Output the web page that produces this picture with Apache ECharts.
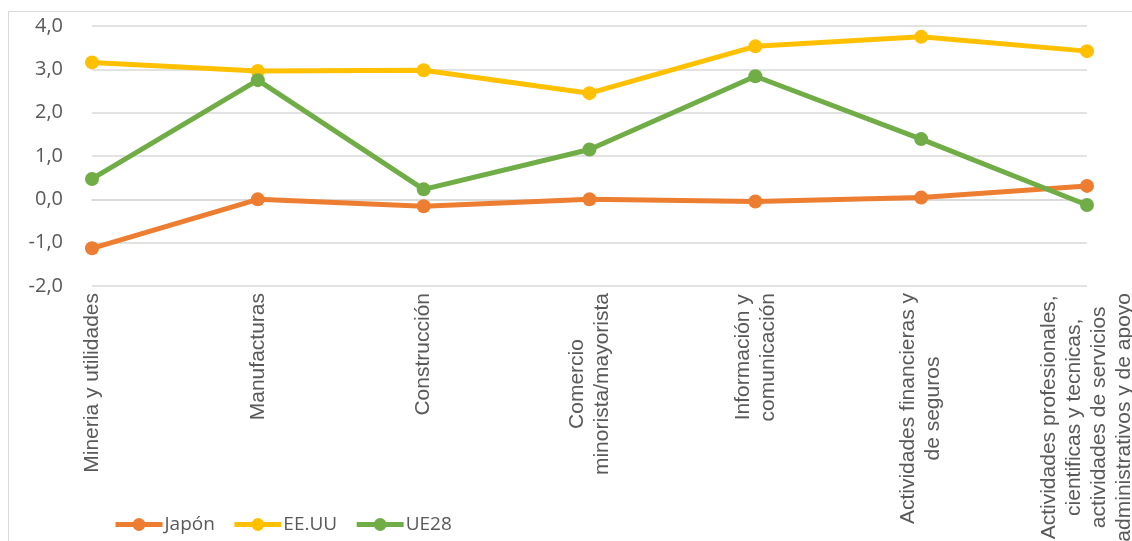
<!DOCTYPE html>
<html>
<head>
<meta charset="utf-8">
<script src="https://cdn.jsdelivr.net/npm/echarts@6/dist/echarts.min.js"></script>
<style>
  html, body { margin: 0; padding: 0; background: #fff; }
  #chart { width: 1132px; height: 541px; }
</style>
</head>
<body>
<div id="chart"></div>
<script>
// Sectores económicos (eje X)
const sectores = [
  'Mineria y utilidades',
  'Manufacturas',
  'Construcción',
  'Comercio\nminorista/mayorista',
  'Información y\ncomunicación',
  'Actividades financieras y\nde seguros',
  'Actividades profesionales,\ncientificas y tecnicas,\nactividades de servicios\nadministrativos y de apoyo'
];

// Variación por región
const japon = [-1.13, 0.0, -0.16, 0.0, -0.05, 0.04, 0.31];
const eeuu  = [3.16, 2.96, 2.98, 2.45, 3.53, 3.75, 3.42];
const ue28  = [0.47, 2.75, 0.23, 1.15, 2.84, 1.39, -0.13];

const nombres = ['Japón', 'EE.UU', 'UE28'];
const colores = ['#ED7D31', '#FFC000', '#70AD47'];

const textoGris = '#595959';
const rejilla = '#d9d9d9';

const chart = echarts.init(document.getElementById('chart'), null, { renderer: 'canvas' });

function serie(nombre, datos, color) {
  return {
    name: nombre,
    type: 'line',
    data: datos,
    symbol: 'circle',
    symbolSize: 14,
    smooth: false,
    lineStyle: { width: 5, color: color },
    itemStyle: { color: color },
    emphasis: { disabled: true }
  };
}

chart.setOption({
  animation: false,
  backgroundColor: '#fff',
  graphic: [{
    type: 'polyline',
    shape: { points: [[8.5, 541], [8.5, 11.5], [1132, 11.5]] },
    style: { stroke: rejilla, lineWidth: 1, fill: null },
    silent: true
  }],
  grid: {
    left: 92, right: 45, top: 26, bottom: 255,
    containLabel: false,
    outerBoundsMode: 'none'
  },
  legend: {
    left: 108,
    top: 510,
    itemWidth: 47,
    itemHeight: 16,
    itemGap: 17,
    lineStyle: { width: 5 },
    textStyle: {
      fontFamily: 'Open Sans', fontSize: 19, color: textoGris,
      padding: [0, 0, 0, -3]
    },
    data: nombres
  },
  xAxis: {
    type: 'category',
    boundaryGap: false,
    data: sectores,
    axisLine: { show: true, lineStyle: { color: rejilla, width: 1.5 } },
    axisTick: { show: false },
    splitLine: { show: false },
    axisLabel: {
      interval: 0,
      rotate: 90,
      margin: 7,
      color: textoGris,
      fontFamily: 'Liberation Sans',
      fontSize: 21,
      lineHeight: 25,
      formatter: function (v) {
        return v.split('\n').map(function (l) { return '{c|' + l + '}'; }).join('\n');
      },
      rich: {
        c: {
          align: 'center',
          fontFamily: 'Liberation Sans',
          fontSize: 21,
          lineHeight: 25,
          color: textoGris
        }
      }
    }
  },
  yAxis: {
    type: 'value',
    min: -2,
    max: 4,
    interval: 1,
    axisLine: { show: false },
    axisTick: { show: false },
    splitLine: { show: true, lineStyle: { color: rejilla, width: 1.5 } },
    axisLabel: {
      margin: 29,
      color: textoGris,
      fontFamily: 'Open Sans',
      fontSize: 20,
      formatter: function (v) { return v.toFixed(1).replace('.', ','); }
    }
  },
  series: [
    serie(nombres[0], japon, colores[0]),
    serie(nombres[1], eeuu, colores[1]),
    serie(nombres[2], ue28, colores[2])
  ]
});
</script>
</body>
</html>
